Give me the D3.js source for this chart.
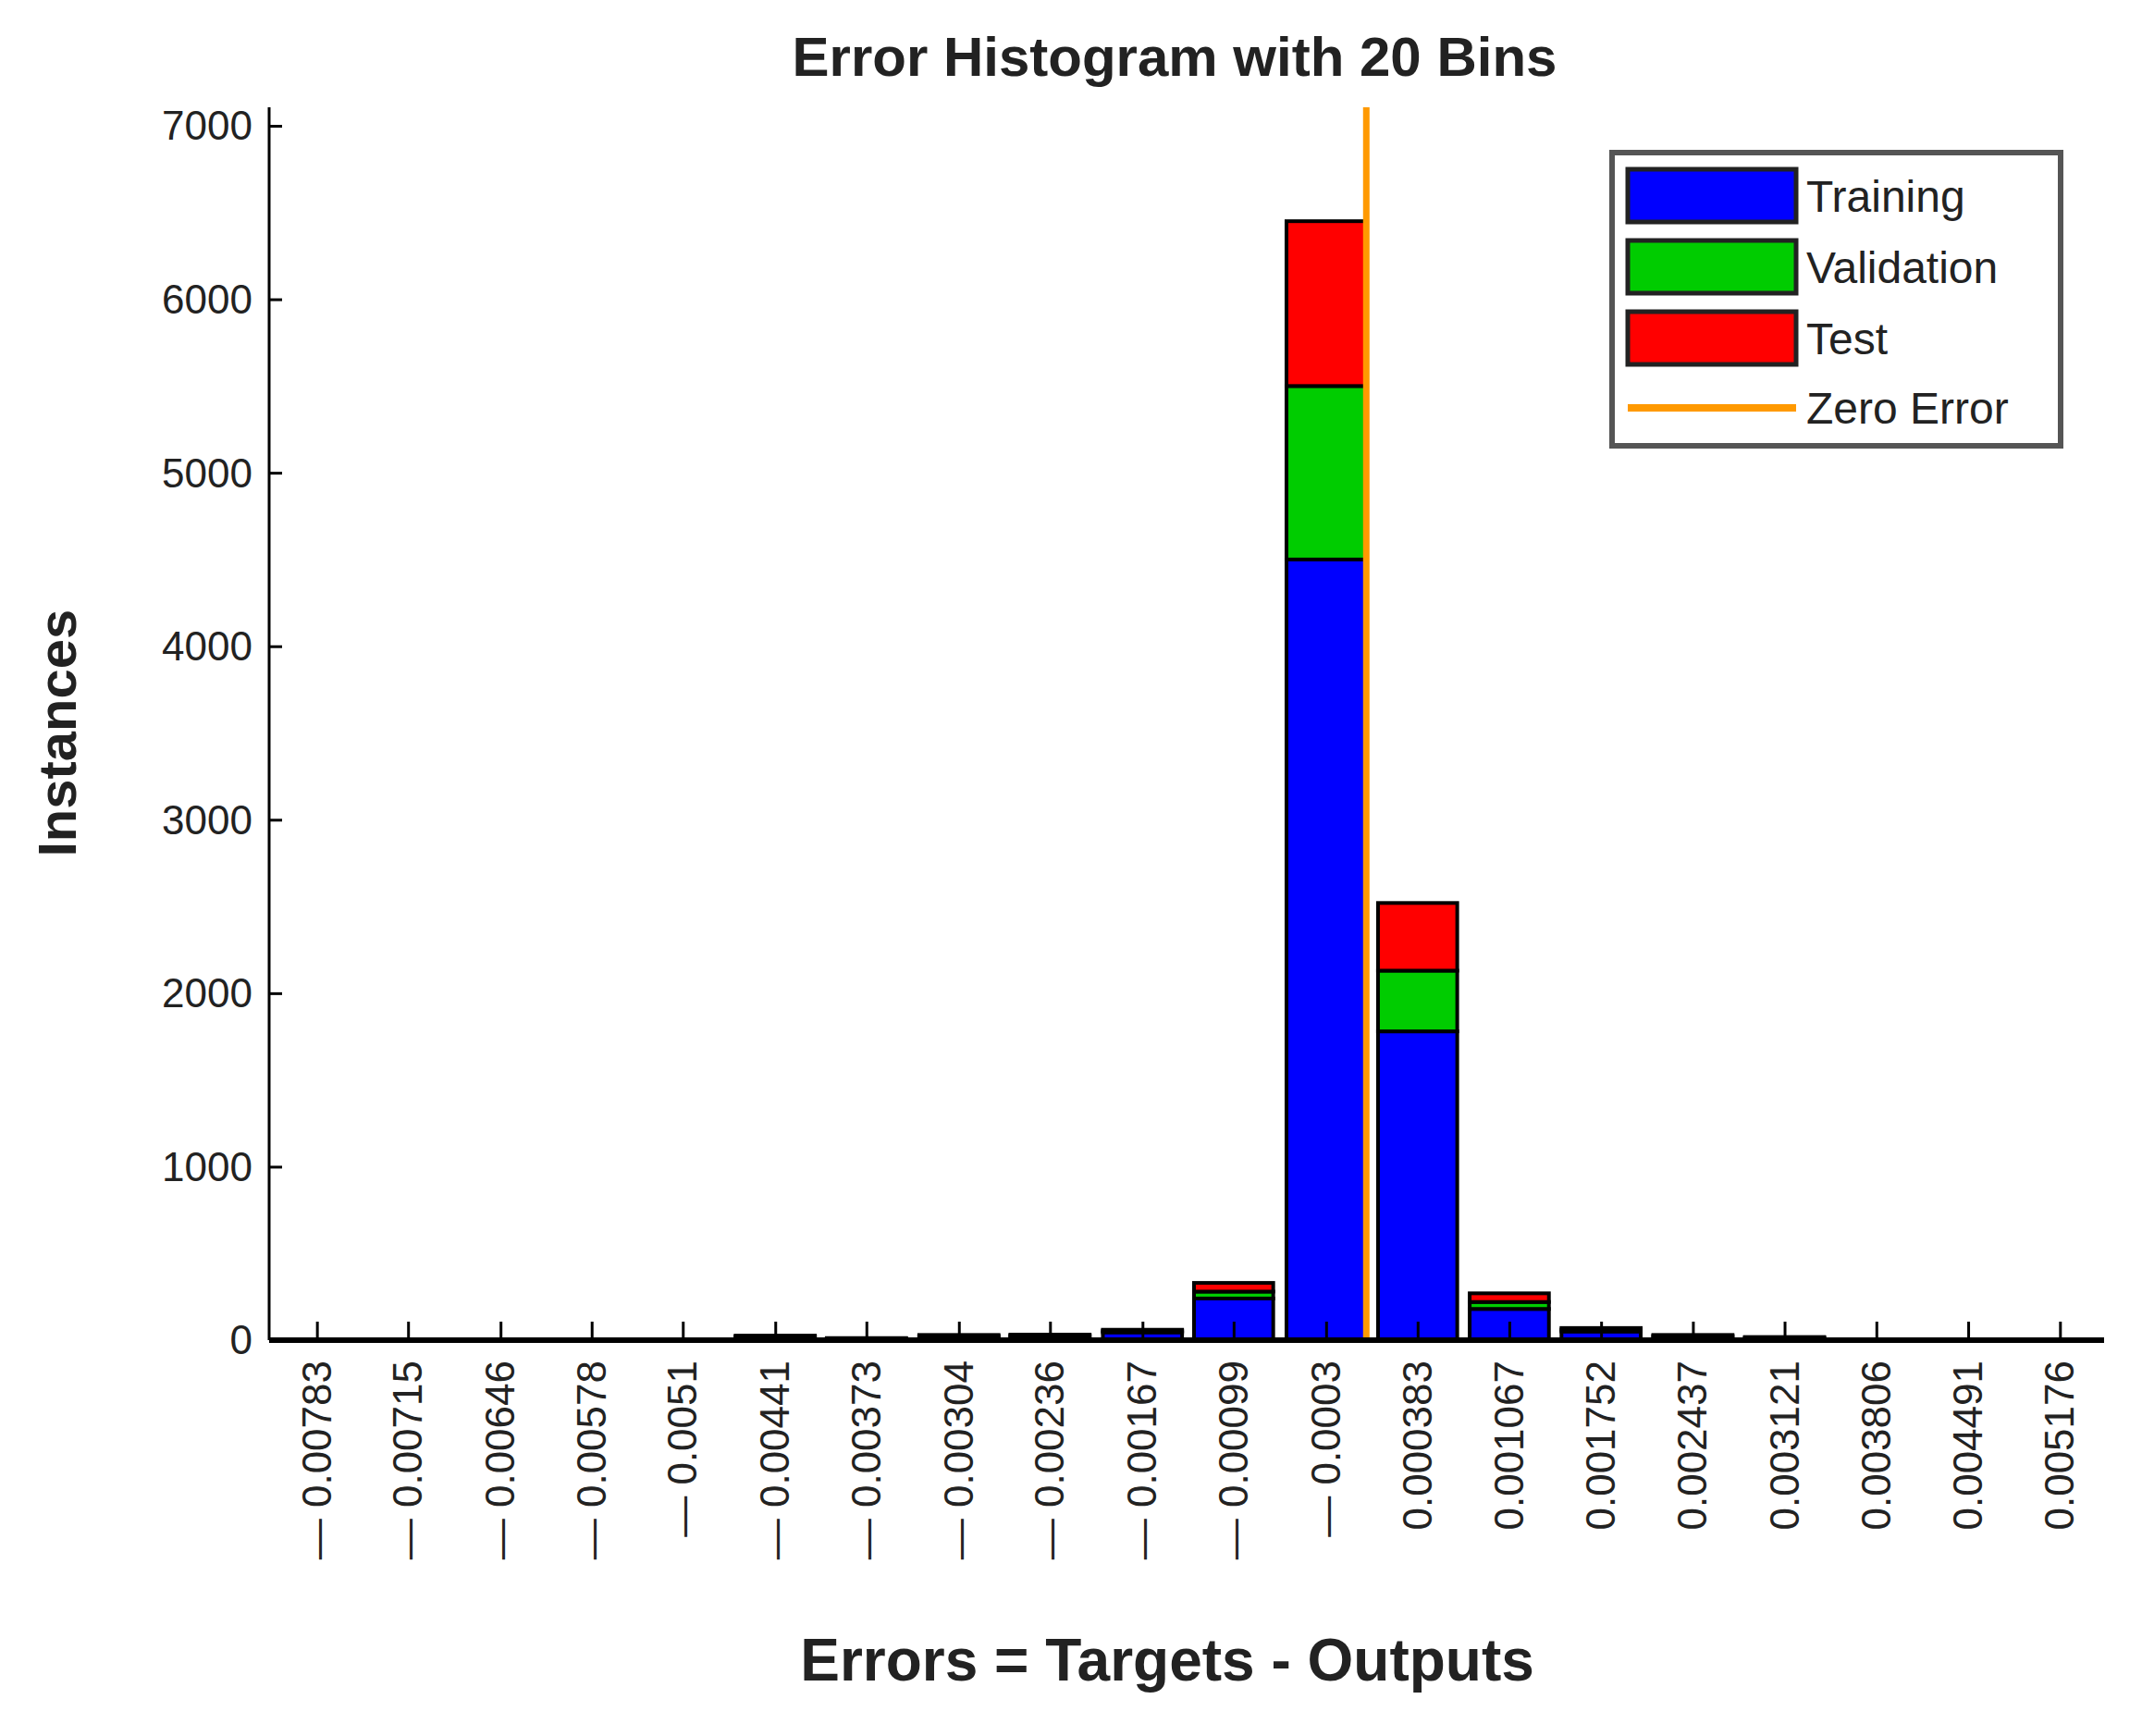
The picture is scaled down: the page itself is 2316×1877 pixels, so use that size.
<!DOCTYPE html>
<html><head><meta charset="utf-8">
<script src="https://cdn.jsdelivr.net/npm/d3@7"></script>
<style>body{margin:0;background:#fff}text{font-family:"Liberation Sans",Arial,sans-serif}</style>
</head><body>
<svg width="2316" height="1877"></svg>
<script>
const binLabels = ["-0.00783","-0.00715","-0.00646","-0.00578","-0.0051","-0.00441","-0.00373","-0.00304","-0.00236","-0.00167","-0.00099","-0.0003","0.000383","0.001067","0.001752","0.002437","0.003121","0.003806","0.004491","0.005176"];
const training   = [3, 3, 3, 3, 3, 18, 8, 20, 22, 45, 240, 4500, 1780, 180, 50, 20, 12, 3, 3, 3];
const validation = [1, 1, 1, 1, 1, 4, 2, 5, 5, 8, 40, 1000, 350, 40, 10, 5, 3, 1, 1, 1];
const test       = [1, 1, 1, 1, 1, 4, 2, 5, 5, 7, 50, 950, 390, 50, 10, 5, 3, 1, 1, 1];
const yTicks = [0, 1000, 2000, 3000, 4000, 5000, 6000, 7000];
const seriesNames = ["Training", "Validation", "Test"];
const colors = ["#0000ff", "#00cc00", "#ff0000"];

const svg = d3.select("svg");
const margin = {left: 291, right: 41, top: 136, bottom: 428};
const W = 2316, H = 1877;
const values = binLabels.map(Number);
const step = 67.2 * 1.477;
const x0 = 232 * 1.477, x1 = 1508 * 1.477;
const x = d3.scaleLinear().domain([values[0], values[19]]).range([x0, x1]);
const y = d3.scaleLinear().domain([0, 7000]).range([H - margin.bottom, margin.top]);
const barW = 58 * 1.477;

const stacked = d3.stack().keys([0, 1, 2]).value((d, k) => [training, validation, test][k][d])(d3.range(20));

const g = svg.append("g");
stacked.forEach((layer, k) => {
    g.selectAll(null).data(layer).enter().append("rect")
        .attr("x", (d, i) => x(values[i]) - barW / 2)
        .attr("y", d => y(d[1]))
        .attr("width", barW)
        .attr("height", d => y(d[0]) - y(d[1]))
        .attr("fill", colors[k])
        .attr("stroke", "#000").attr("stroke-width", 4);
});

// zero error line
svg.append("line")
    .attr("x1", x(0)).attr("x2", x(0))
    .attr("y1", margin.top - 20).attr("y2", y(0))
    .attr("stroke", "#ff9900").attr("stroke-width", 7);

// y axis
const yAxis = svg.append("g").attr("transform", `translate(${margin.left},0)`)
    .call(d3.axisRight(y).tickValues(yTicks).tickSize(14).tickFormat(""));
yAxis.selectAll("line,path").attr("stroke", "#000").attr("stroke-width", 3);
yAxis.select(".domain").attr("d", `M0,${margin.top - 20}V${y(0)}`);
svg.selectAll(".ylab").data(yTicks).enter().append("text")
    .attr("x", margin.left - 18).attr("y", d => y(d)).attr("dy", "0.35em")
    .attr("text-anchor", "end").attr("font-size", 44).attr("fill", "#222")
    .text(d => d);

// x axis
const xAxis = svg.append("g").attr("transform", `translate(0,${y(0)})`)
    .call(d3.axisTop(x).tickValues(values).tickSize(20).tickFormat(""));
xAxis.selectAll("line").attr("stroke", "#000").attr("stroke-width", 3);
xAxis.select(".domain").attr("d", `M${margin.left},0H${W - margin.right}`).attr("stroke", "#000").attr("stroke-width", 6);
svg.selectAll(".xlab").data(binLabels).enter().append("text")
    .attr("transform", (d, i) => `translate(${x(values[i]) + 15},${y(0) + 22}) rotate(-90)`)
    .attr("text-anchor", "end").attr("font-size", 44).attr("fill", "#222")
    .text(d => d.replace("-", "\u2014 "));

// titles
svg.append("text").attr("x", 1270).attr("y", 82).attr("text-anchor", "middle")
    .attr("font-size", 60).attr("font-weight", "bold").attr("fill", "#222")
    .text("Error Histogram with 20 Bins");
svg.append("text").attr("x", 1262).attr("y", 1817).attr("text-anchor", "middle")
    .attr("font-size", 64).attr("font-weight", "bold").attr("fill", "#222")
    .text("Errors = Targets - Outputs");
svg.append("text").attr("transform", `translate(82,${y(3500)}) rotate(-90)`)
    .attr("text-anchor", "middle").attr("font-size", 58).attr("font-weight", "bold").attr("fill", "#222")
    .text("Instances");

// legend
const lg = svg.append("g").attr("transform", "translate(1743,165)");
lg.append("rect").attr("width", 485).attr("height", 317)
    .attr("fill", "#fff").attr("stroke", "#555").attr("stroke-width", 6);
seriesNames.forEach((n, i) => {
    lg.append("rect").attr("x", 17).attr("y", 18 + i * 77).attr("width", 182).attr("height", 57)
        .attr("fill", colors[i]).attr("stroke", "#222").attr("stroke-width", 5);
    lg.append("text").attr("x", 210).attr("y", 47 + i * 77).attr("dy", "0.35em")
        .attr("font-size", 48).attr("fill", "#222").text(n);
});
lg.append("line").attr("x1", 17).attr("x2", 199).attr("y1", 276).attr("y2", 276)
    .attr("stroke", "#ff9900").attr("stroke-width", 8);
lg.append("text").attr("x", 210).attr("y", 276).attr("dy", "0.35em")
    .attr("font-size", 48).attr("fill", "#222").text("Zero Error");
</script>
</body></html>
